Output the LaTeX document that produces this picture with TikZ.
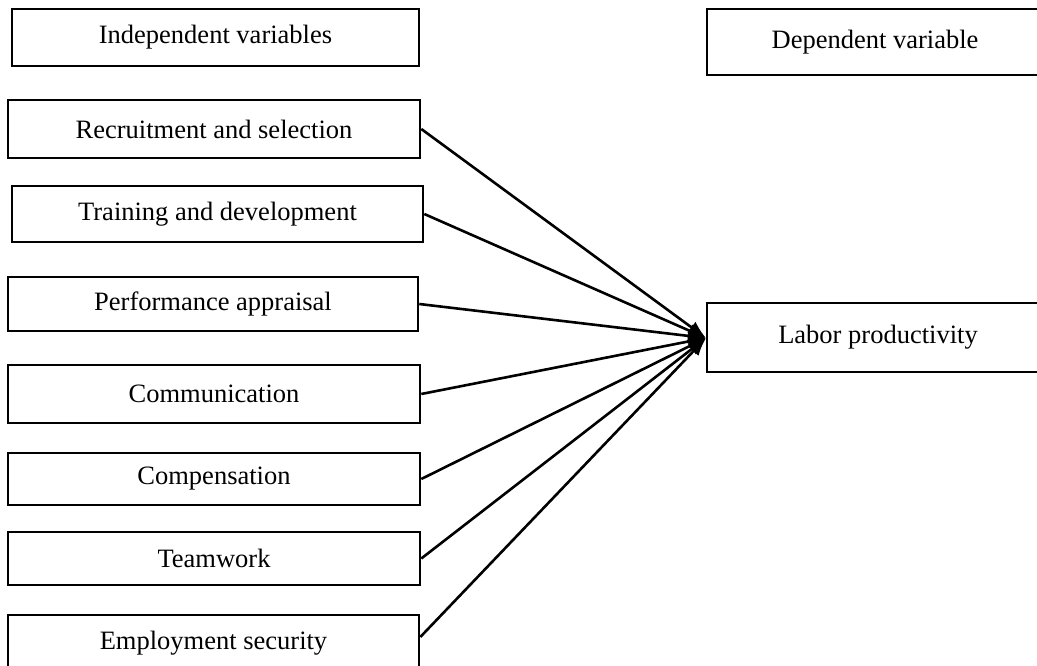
\documentclass[tikz,border=0pt]{standalone}
\usepackage{fontspec}
\setmainfont{Liberation Serif}
\usetikzlibrary{arrows.meta}
\tikzset{
  vbox/.style={draw=black, line width=2.6pt, inner sep=0pt, fill=white,
    font=\fontsize{26.5}{30}\selectfont},
  link/.style={line width=2.6pt, -{Latex[length=18pt,width=14pt]}}
}
\newcommand{\mybox}[6]{% name, left, top, right, bottom, text
  \node[vbox, minimum width={(#4-#2)*1pt}, minimum height={(#5-#3)*1pt}]
    (#1) at ({(#2+#4)/2},{(#3+#5)/2}) {#6};}
\begin{document}
\begin{tikzpicture}[x=1pt,y=-1pt]
\useasboundingbox (0,0) rectangle (1037,666);
\clip (0,0) rectangle (1037,666);
\mybox{iv}{12}{9}{419}{66}{Independent variables}
\mybox{dv}{707}{9}{1043}{75}{Dependent variable}
\mybox{rs}{8}{100}{420}{158}{Recruitment and selection}
\mybox{td}{12}{186}{423}{242}{Training and development}
\mybox{pa}{8}{277}{418}{331}{Performance appraisal}
\mybox{cm}{8}{365}{420}{423}{Communication}
\mybox{cp}{8}{453}{420}{505}{Compensation}
\mybox{tw}{8}{532}{420}{585}{Teamwork}
\mybox{es}{8}{615}{419}{671}{Employment security}
\mybox{lp}{707}{303}{1049}{372}{Labor productivity}
\coordinate (tip) at (706,338);
\foreach \n in {rs,td,pa,cm,cp,tw}{\draw[link] (\n.east) -- (tip);}
\draw[link] ([yshift=6pt]es.east) -- (tip);
\end{tikzpicture}
\end{document}
